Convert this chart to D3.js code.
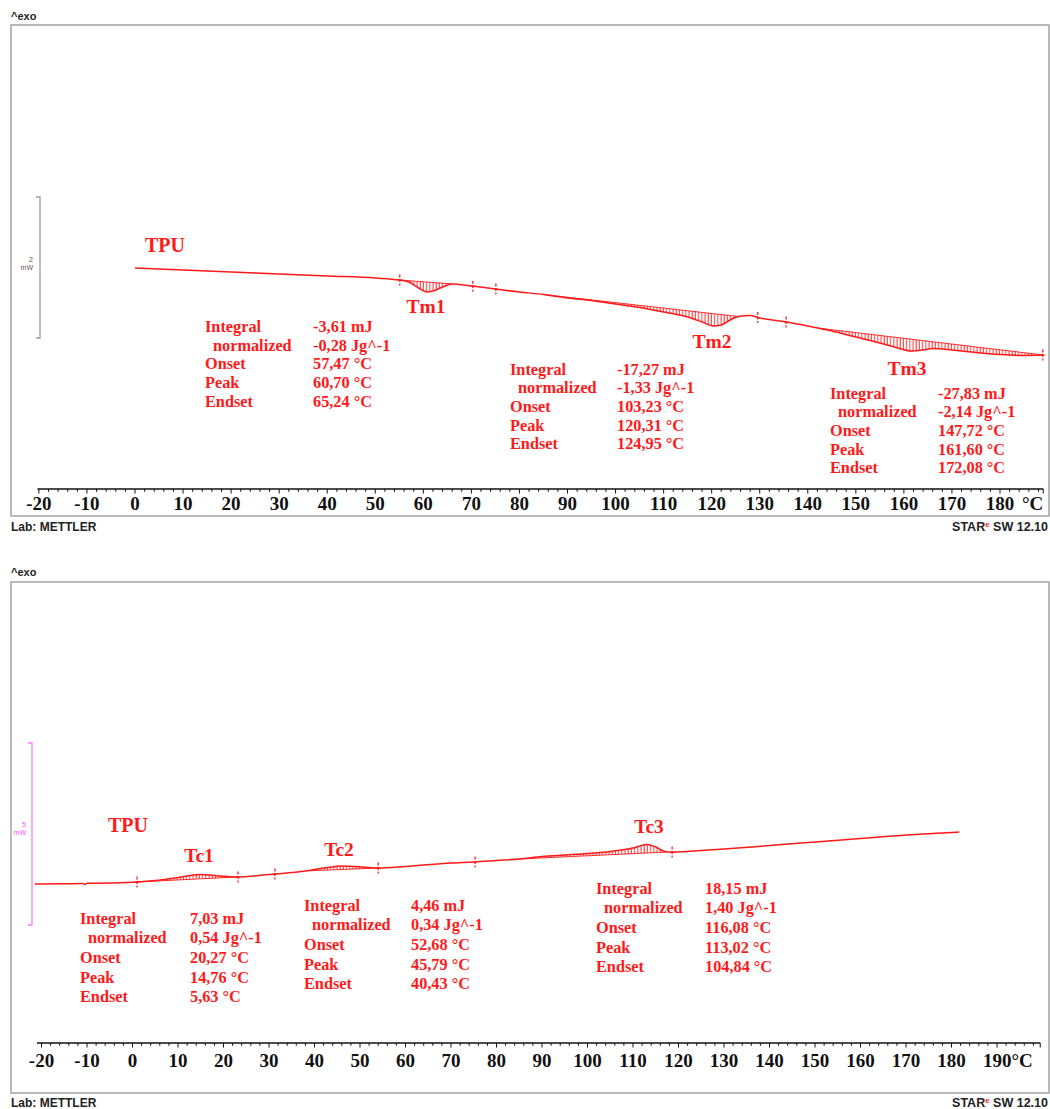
<!DOCTYPE html>
<html><head><meta charset="utf-8">
<script src="https://cdn.jsdelivr.net/npm/d3@7"></script>
<style>body{margin:0;background:#fff}svg{display:block}</style>
</head><body>
<script>
// ---------- DATA ----------
// Heating run (top): temperature (°C) and heat flow (mW)
const heatTemp = [0,10,20,30,40,50,55,57,59,60.7,62,64,66,70,75,80,85,90,95,100,105,110,115,118,120.3,122,124,125.5,128,130,135,140,142,145,150,155,158,161.6,164,166,170,175,180,185,189];
const heatFlow = [0.993,0.965,0.936,0.908,0.879,0.851,0.823,0.794,0.709,0.652,0.667,0.723,0.766,0.738,0.695,0.652,0.617,0.567,0.532,0.482,0.433,0.369,0.298,0.227,0.170,0.184,0.262,0.305,0.319,0.284,0.234,0.170,0.142,0.099,0.014,-0.071,-0.128,-0.184,-0.170,-0.149,-0.170,-0.206,-0.234,-0.248,-0.241];
// integration baselines [T1, HF1, T2, HF2]
const meltBaselines = [[55,0.823,66,0.766],[85,0.617,125.5,0.305],[142,0.142,189,-0.241]];
const meltLimitMarks = [55.1,70.3,75.1,129.6,135.5,188.9];
const meltNames = ["Tm1","Tm2","Tm3"];
const meltIntegral = ["-3,61 mJ","-17,27 mJ","-27,83 mJ"];
const meltNormalized = ["-0,28 Jg^-1","-1,33 Jg^-1","-2,14 Jg^-1"];
const meltOnset = ["57,47 °C","103,23 °C","147,72 °C"];
const meltPeak = ["60,70 °C","120,31 °C","161,60 °C"];
const meltEndset = ["65,24 °C","124,95 °C","172,08 °C"];

// Cooling run (bottom)
const coolTemp = [-21.5,-15,-11,-10.5,-10,-5,1,5,10,14.8,18,21,23,30,35,38,40,43,45.8,49,54,60,70,75,80,85,90,95,100,105,110,113,115,117,117.5,119,125,130,140,150,160,170,180,181.7];
const coolFlow = [1.126,1.132,1.140,1.113,1.146,1.154,1.181,1.223,1.305,1.387,1.360,1.332,1.319,1.387,1.442,1.484,1.525,1.580,1.621,1.607,1.566,1.607,1.703,1.731,1.772,1.813,1.882,1.923,1.964,2.019,2.115,2.212,2.143,2.019,2.005,2.005,2.047,2.088,2.184,2.280,2.376,2.473,2.541,2.555];
const coolBaselines = [[1,1.181,23,1.319],[38,1.484,54,1.566],[85,1.813,117.5,2.005]];
const coolLimitMarks = [1,23.2,31.3,54,75.3,118.6];
const coolNames = ["Tc1","Tc2","Tc3"];
const coolIntegral = ["7,03 mJ","4,46 mJ","18,15 mJ"];
const coolNormalized = ["0,54 Jg^-1","0,34 Jg^-1","1,40 Jg^-1"];
const coolOnset = ["20,27 °C","52,68 °C","116,08 °C"];
const coolPeak = ["14,76 °C","45,79 °C","113,02 °C"];
const coolEndset = ["5,63 °C","40,43 °C","104,84 °C"];

const rowNames = ["Integral","normalized","Onset","Peak","Endset"];
const topTickLabels = d3.range(-20, 181, 10);
const bottomTickLabels = d3.range(-20, 191, 10);
const sampleName = "TPU";

// ---------- LAYOUT ----------
const W = 1050, H = 1109;
const RED = "#ff1a1a";
const svg = d3.select("body").append("svg").attr("width", W).attr("height", H)
  .style("font-family", "'Liberation Serif', serif");

const defs = svg.append("defs");
const pat = defs.append("pattern").attr("id","hatch").attr("patternUnits","userSpaceOnUse")
  .attr("width",3.2).attr("height",10);
pat.append("line").attr("x1",1).attr("x2",1).attr("y1",0).attr("y2",10)
  .attr("stroke",RED).attr("stroke-width",0.9);

const panels = [
  {
    frame:[11,25,1049,516], exoY:20,
    x: d3.scaleLinear().domain([0,180]).range([135,1000]),
    axisFrom:-20.3, axisTo:189, axisY:489, labelY:510,
    tickLabels: topTickLabels, unitMode:"alone",
    y: d3.scaleLinear().domain([0,2]).range([338,197]),
    bar:{x:40, lo:0, hi:2, color:"#9a9a9a", txt:"2", txtX:33, txtY:262, txtColor:"#555"},
    temp:heatTemp, flow:heatFlow, baselines:meltBaselines, marks:meltLimitMarks,
    names:meltNames, vals:[meltIntegral,meltNormalized,meltOnset,meltPeak,meltEndset],
    sample:[145,252],
    nameXY:[[426,313],[712,348],[907,375]],
    blocks:[[205,313,332],[510,617,374.5],[830,938,398.5]], rowGap:18.7,
    footY:531
  },
  {
    frame:[11,582,1049,1093], exoY:576,
    x: d3.scaleLinear().domain([0,180]).range([132.5,951.5]),
    axisFrom:-21, axisTo:199.5, axisY:1043, labelY:1067,
    tickLabels: bottomTickLabels, unitMode:"attached",
    y: d3.scaleLinear().domain([0,5]).range([925,743]),
    bar:{x:32, lo:0, hi:5, color:"#ff77ff", txt:"5", txtX:26, txtY:827, txtColor:"#ff55ff"},
    temp:coolTemp, flow:coolFlow, baselines:coolBaselines, marks:coolLimitMarks,
    names:coolNames, vals:[coolIntegral,coolNormalized,coolOnset,coolPeak,coolEndset],
    sample:[108,832],
    nameXY:[[199,862],[339,856],[649,833]],
    blocks:[[80,190,923.5],[304,411,910.5],[596,705,893.5]], rowGap:19.7,
    footY:1107
  }
];

panels.forEach(p => {
  const g = svg.append("g");
  const [fx0,fy0,fx1,fy1] = p.frame;
  g.append("rect").attr("x",fx0).attr("y",fy0).attr("width",fx1-fx0).attr("height",fy1-fy0)
    .attr("fill","none").attr("stroke","#a8a8a8").attr("stroke-width",1.6);
  g.append("text").attr("x",fx0).attr("y",p.exoY).text("^exo")
    .style("font-family","'Liberation Sans',Arial,sans-serif").style("font-size","11px")
    .style("font-weight","bold").attr("fill","#222");

  // x axis
  const x = p.x;
  g.append("line").attr("x1",x(p.axisFrom)).attr("x2",x(p.axisTo)).attr("y1",p.axisY).attr("y2",p.axisY)
    .attr("stroke","#111").attr("stroke-width",1.4);
  const ticks = d3.range(-20, p.axisTo, 2);
  g.selectAll(null).data(ticks).join("line")
    .attr("x1",d=>x(d)).attr("x2",d=>x(d)).attr("y1",p.axisY)
    .attr("y2",d=> p.axisY + (d%10===0 ? 4.5 : 2.8))
    .attr("stroke","#111").attr("stroke-width",1);
  g.append("line").attr("x1",x(p.axisTo)).attr("x2",x(p.axisTo)).attr("y1",p.axisY).attr("y2",p.axisY+4.5)
    .attr("stroke","#111").attr("stroke-width",1);
  const lastLbl = p.tickLabels[p.tickLabels.length-1];
  g.selectAll(null).data(p.tickLabels).join("text")
    .attr("x",d=> (p.unitMode==="attached" && d===lastLbl) ? x(d)-14 : x(d))
    .attr("y",p.labelY)
    .attr("text-anchor",d=> (p.unitMode==="attached" && d===lastLbl) ? "start" : "middle")
    .style("font-size","19px").style("font-weight","bold").attr("fill","#111")
    .text(d=> (p.unitMode==="attached" && d===lastLbl) ? d+"°C" : String(d));
  if (p.unitMode==="alone") {
    g.append("text").attr("x",x(p.axisTo)).attr("y",p.labelY).attr("text-anchor","end")
      .style("font-size","19px").style("font-weight","bold").attr("fill","#111").text("°C");
  }

  // scale bar
  const y = p.y, b = p.bar;
  const yb0 = y(b.lo), yb1 = y(b.hi);
  g.append("path").attr("d",`M${b.x-4},${yb1}H${b.x}V${yb0}H${b.x-4}`)
    .attr("fill","none").attr("stroke",b.color).attr("stroke-width",1.3);
  g.append("text").attr("x",b.txtX).attr("y",b.txtY).attr("text-anchor","end").text(b.txt)
    .style("font-family","'Liberation Sans',Arial,sans-serif").style("font-size","7px").attr("fill",b.txtColor);
  g.append("text").attr("x",b.txtX).attr("y",b.txtY+8).attr("text-anchor","end").text("mW")
    .style("font-family","'Liberation Sans',Arial,sans-serif").style("font-size","7px").attr("fill",b.txtColor);

  // hatched integration areas
  const pts = p.temp.map((t,i)=>({t, f:p.flow[i]}));
  p.baselines.forEach(([t1,f1,t2,f2]) => {
    const bl = d3.scaleLinear().domain([t1,t2]).range([f1,f2]);
    const seg = [{t:t1,f:f1}].concat(pts.filter(d=>d.t>t1 && d.t<t2)).concat([{t:t2,f:f2}]);
    const area = d3.area().x(d=>x(d.t)).y0(d=>y(bl(d.t))).y1(d=>y(d.f)).curve(d3.curveMonotoneX);
    g.append("path").attr("d",area(seg)).attr("fill","url(#hatch)").attr("stroke","none");
    g.append("line").attr("x1",x(t1)).attr("x2",x(t2)).attr("y1",y(f1)).attr("y2",y(f2))
      .attr("stroke",RED).attr("stroke-width",0.9);
  });

  // curve
  const line = d3.line().x(d=>x(d.t)).y(d=>y(d.f)).curve(d3.curveMonotoneX);
  g.append("path").attr("d",line(pts)).attr("fill","none").attr("stroke",RED).attr("stroke-width",1.5);

  // limit marks
  const fAt = d3.scaleLinear().domain(p.temp).range(p.flow);
  p.marks.forEach(t => {
    const cx = x(t), cy = y(fAt(t));
    g.append("line").attr("x1",cx).attr("x2",cx).attr("y1",cy-5.5).attr("y2",cy+5.5)
      .attr("stroke",RED).attr("stroke-width",1.3).attr("stroke-dasharray","3,1.5");
    g.append("line").attr("x1",cx-2).attr("x2",cx+2).attr("y1",cy).attr("y2",cy)
      .attr("stroke",RED).attr("stroke-width",1);
  });

  // labels
  const txt = (xx,yy,s,size,anchor) => g.append("text").attr("x",xx).attr("y",yy)
    .attr("text-anchor",anchor||"start").style("font-size",size).style("font-weight","bold")
    .attr("fill",RED).text(s);
  txt(p.sample[0], p.sample[1], sampleName, "20px");
  p.names.forEach((n,i)=> txt(p.nameXY[i][0], p.nameXY[i][1], n, "19.5px", "middle"));
  p.blocks.forEach(([lx,vx,by],i) => {
    rowNames.forEach((r,k) => {
      txt(k===1 ? lx+8 : lx, by + k*p.rowGap, r, "16.3px");
      txt(vx, by + k*p.rowGap, p.vals[k][i], "16.3px");
    });
  });

  // footer
  const foot = g.append("g").style("font-family","'Liberation Sans',Arial,sans-serif").style("font-weight","bold");
  foot.append("text").attr("x",fx0).attr("y",p.footY).style("font-size","12px").attr("fill","#222").text("Lab: METTLER");
  const st = foot.append("text").attr("x",1048).attr("y",p.footY).attr("text-anchor","end").style("font-size","12.5px").attr("fill","#222");
  st.append("tspan").text("STAR");
  st.append("tspan").attr("fill","#ff2020").attr("dy",-4).style("font-size","8px").text("e");
  st.append("tspan").attr("dy",4).text(" SW 12.10");
});
</script>
</body></html>
